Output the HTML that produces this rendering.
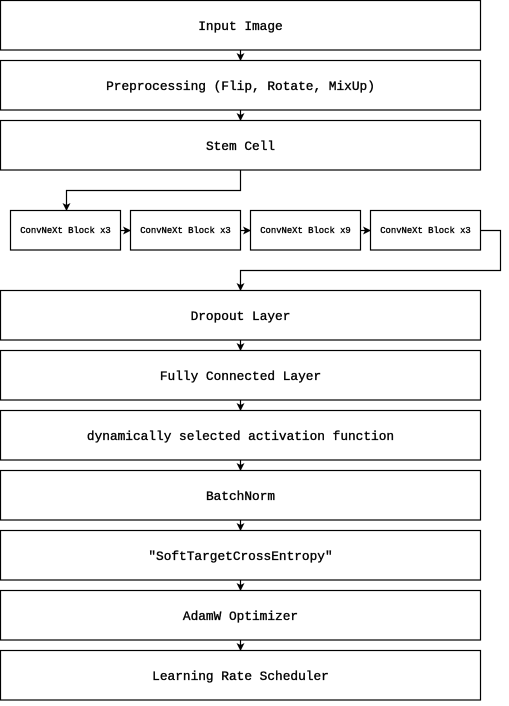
<!DOCTYPE html>
<html><head><style>
body{margin:0;background:#fff;}
svg text{font-family:"Liberation Mono",monospace;font-weight:normal;fill:#000;stroke:#000;stroke-width:0.35;}
</style></head><body>
<svg width="509" height="701" xmlns="http://www.w3.org/2000/svg">
<defs><marker id="a" markerWidth="8" markerHeight="8" refX="7" refY="4" orient="auto" markerUnits="userSpaceOnUse"><path d="M0,0 L8,4 L0,8 L2,4 Z" fill="#000"/></marker></defs>
<g fill="#fff" stroke="#000" stroke-width="1.2">
<rect x="0.5" y="0.5" width="480" height="49.5"/>
<rect x="0.5" y="60.5" width="480" height="49.5"/>
<rect x="0.5" y="120.5" width="480" height="49.5"/>
<rect x="10.5" y="210.5" width="110" height="39.5"/>
<rect x="130.5" y="210.5" width="110" height="39.5"/>
<rect x="250.5" y="210.5" width="110" height="39.5"/>
<rect x="370.5" y="210.5" width="110" height="39.5"/>
<rect x="0.5" y="290.5" width="480" height="49.5"/>
<rect x="0.5" y="350.5" width="480" height="49.5"/>
<rect x="0.5" y="410.5" width="480" height="49.5"/>
<rect x="0.5" y="470.5" width="480" height="49.5"/>
<rect x="0.5" y="530.5" width="480" height="49.5"/>
<rect x="0.5" y="590.5" width="480" height="49.5"/>
<rect x="0.5" y="650.5" width="480" height="49.5"/>
</g>
<g fill="none" stroke="#000" stroke-width="1.2" marker-end="url(#a)">
<path d="M240.5,50 V60"/><path d="M240.5,110 V120"/>
<path d="M240.5,170 V190.5 H66.5 V210"/>
<path d="M120.5,230.5 H130"/><path d="M240.5,230.5 H250"/><path d="M360.5,230.5 H370"/>
<path d="M480.5,230.5 H500.5 V270.5 H240.5 V290"/>
<path d="M240.5,340 V350"/><path d="M240.5,400 V410"/><path d="M240.5,460 V470"/>
<path d="M240.5,520 V530"/><path d="M240.5,580 V590"/><path d="M240.5,640 V650"/>
</g>
<g font-size="12.8" text-anchor="middle">
<text x="240.5" y="30">Input Image</text>
<text x="240.5" y="90">Preprocessing (Flip, Rotate, MixUp)</text>
<text x="240.5" y="150">Stem Cell</text>
<text x="240.5" y="320">Dropout Layer</text>
<text x="240.5" y="380">Fully Connected Layer</text>
<text x="240.5" y="440">dynamically selected activation function</text>
<text x="240.5" y="500">BatchNorm</text>
<text x="240.5" y="560">"SoftTargetCrossEntropy"</text>
<text x="240.5" y="620">AdamW Optimizer</text>
<text x="240.5" y="680">Learning Rate Scheduler</text>
</g>
<g font-size="8.9" text-anchor="middle" style="stroke-width:0.25">
<text x="65.5" y="233">ConvNeXt Block x3</text>
<text x="185.5" y="233">ConvNeXt Block x3</text>
<text x="305.5" y="233">ConvNeXt Block x9</text>
<text x="425.5" y="233">ConvNeXt Block x3</text>
</g>
</svg>
</body></html>
